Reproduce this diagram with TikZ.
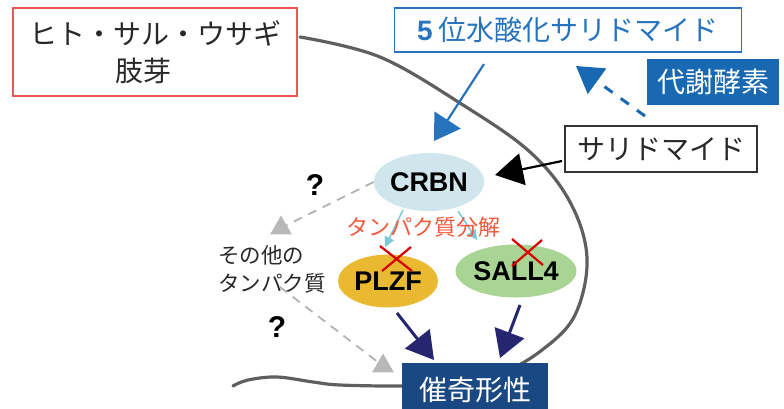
\documentclass[tikz,border=0pt]{standalone}
\usepackage{fontspec}
\setmainfont{Liberation Sans}
\newfontfamily\jp{Noto Sans CJK JP}
\usetikzlibrary{arrows.meta,shapes.geometric}
\definecolor{limbred}{RGB}{235,85,85}
\definecolor{hxblue}{RGB}{40,115,190}
\definecolor{enzblue}{RGB}{25,105,178}
\definecolor{crbnfill}{RGB}{208,230,236}
\definecolor{plzffill}{RGB}{234,185,50}
\definecolor{sallfill}{RGB}{168,212,148}
\definecolor{navyarrow}{RGB}{38,38,112}
\definecolor{navybox}{RGB}{25,72,130}
\definecolor{degr}{RGB}{240,90,60}
\definecolor{lightarrow}{RGB}{120,200,215}
\definecolor{curvegray}{RGB}{95,95,95}
\definecolor{txtdark}{RGB}{40,40,40}
\begin{document}
\begin{tikzpicture}[x=1pt,y=-1pt,
  jpbox/.style={draw, line width=1.2pt, inner sep=0pt, align=center, text=txtdark,
    font=\jp\fontsize{28}{37}\selectfont},
  oval/.style={ellipse, inner sep=0pt, font=\bfseries\fontsize{27}{30}\selectfont},
  qmark/.style={font=\bfseries\fontsize{30}{34}\selectfont},
  gtri/.style={regular polygon, regular polygon sides=3, fill=black!28, inner sep=0pt, minimum size=25pt},
  gdash/.style={draw=black!30, line width=1.8pt, dash pattern=on 9pt off 7pt},
  navyarr/.style={draw=navyarrow, line width=3pt, -{Triangle[length=27pt,width=31pt]}},
  lightarr/.style={draw=lightarrow, line width=1.5pt, -{Triangle[length=10pt,width=10pt]}},
  redx/.style={draw=red!85!black, line width=2.2pt}
]
\useasboundingbox (0,0) rectangle (784,408);

% limb bud outline
\draw[curvegray, line width=3.2pt, line cap=round] plot[smooth, tension=0.6] coordinates {
  (300,37) (380,57) (463,105) (530,152) (570,202) (587,258) (575,315) (542,350)
  (500,373) (440,384) (400,386) (340,385) (313,382) (277,377) (248,380) (233,386)};

% boxes
\node[jpbox, draw=limbred, minimum width=284pt, minimum height=88pt] (limb) at (155,52)
  {ヒト・サル・ウサギ\\肢芽\hspace*{0.8em}};
\node[jpbox, draw=hxblue, text=hxblue, minimum width=347pt, minimum height=44pt] (hx) at (568,30)
  {{\rmfamily\bfseries 5} 位水酸化サリドマイド};
\node[jpbox, draw=enzblue, fill=enzblue, text=white, minimum width=130pt, minimum height=44pt] (enz) at (713,82)
  {代謝酵素};
\node[jpbox, draw=black!80, minimum width=192pt, minimum height=46pt] (thal) at (661,149)
  {サリドマイド};
\node[jpbox, draw=navybox, fill=navybox, text=white, minimum width=144pt, minimum height=52pt] (terat) at (475,390)
  {催奇形性};

% ovals
\node[oval, fill=crbnfill, minimum width=108pt, minimum height=58pt] (crbn) at (429,182) {CRBN};

% light degradation arrows
\coordinate (l1s) at (403,210); \coordinate (l1e) at (385,247);
\coordinate (l2s) at (458,211); \coordinate (l2e) at (477,240);
\draw[lightarr] (l1s) -- (l1e);
\draw[lightarr] (l2s) -- (l2e);

\node[oval, fill=plzffill, minimum width=100pt, minimum height=53pt] (plzf) at (388,281) {PLZF};
\node[oval, fill=sallfill, minimum width=103pt, minimum height=53pt] (sall) at (516,271) {SALL4};

\node[text=degr, font=\jp\fontsize{22}{26}\selectfont] (deg) at (423,227) {タンパク質分解};

% red crosses
\draw[redx] (380,246) -- (412,271) (411,247) -- (382,271);
\draw[redx] (512,239) -- (543,265) (542,240) -- (512,266);

% other proteins
\node[align=left, text=txtdark, font=\jp\fontsize{21.5}{28}\selectfont] (other) at (272,269) {その他の\\タンパク質};
\node[gtri] (tri1) at (281,228) {};
\node[gtri] (tri2) at (383,366) {};
\draw[gdash] (crbn.west) -- (tri1);
\coordinate (o2) at (280,287);
\draw[gdash] (o2) -- (tri2);
\node[qmark] (q1) at (315,185) {?};
\node[qmark] (q2) at (277,327) {?};

% arrows
\coordinate (hxs) at (484,64); \coordinate (hxe) at (434,141);
\draw[hxblue, line width=2.2pt, -{Triangle[length=25pt,width=31pt]}] (hxs) -- (hxe);
\coordinate (ens) at (645,116); \coordinate (ene) at (576,66);
\draw[enzblue, line width=3pt, dash pattern=on 10pt off 10pt, -{Triangle[length=26pt,width=31pt]}] (ens) -- (ene);
\coordinate (ths) at (562,161); \coordinate (the) at (495,175);
\draw[black, line width=2.2pt, -{Triangle[length=28pt,width=32pt]}] (ths) -- (the);

\coordinate (p1) at (397,313); \coordinate (p2) at (434,360);
\draw[navyarr] (p1) -- (p2);
\coordinate (s1) at (520,305); \coordinate (s2) at (500,358);
\draw[navyarr] (s1) -- (s2);
\end{tikzpicture}
\end{document}
